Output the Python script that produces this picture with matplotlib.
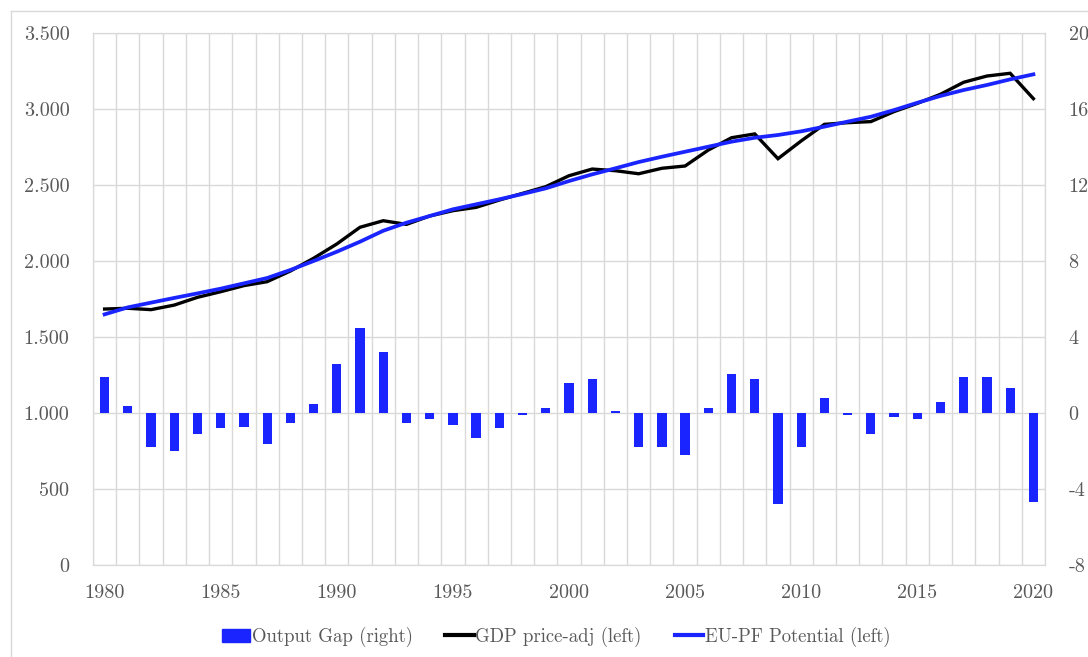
import matplotlib.pyplot as plt
import matplotlib.lines as mlines
import matplotlib.patches as mpatches
import numpy as np

plt.rcParams['font.family'] = ['cmr10', 'DejaVu Serif']
plt.rcParams['axes.unicode_minus'] = False

years = list(range(1980, 2021))

# output gap in %, right axis
output_gap = [1.9, 0.38, -1.8, -2.0, -1.1, -0.8, -0.72, -1.63, -0.51, 0.47,
              2.58, 4.47, 3.19, -0.51, -0.3, -0.61, -1.32, -0.8, -0.12, 0.26,
              1.6, 1.77, 0.09, -1.81, -1.81, -2.19, 0.26, 2.07, 1.77, -4.81,
              -1.81, 0.79, -0.12, -1.12, -0.23, -0.3, 0.58, 1.9, 1.9, 1.3,
              -4.7]

# GDP price adjusted, left axis
gdp = [1684, 1689, 1680, 1710, 1761, 1798, 1838, 1864, 1934, 2018,
       2112, 2222, 2265, 2241, 2296, 2331, 2353, 2401, 2445, 2489,
       2561, 2605, 2594, 2574, 2610, 2625, 2730, 2811, 2836, 2673,
       2790, 2899, 2910, 2917, 2983, 3037, 3097, 3176, 3217, 3235,
       3068]

# EU production function potential, left axis
potential = [1649, 1695, 1726, 1757, 1787, 1818, 1853, 1888, 1941, 2000,
             2061, 2127, 2199, 2252, 2296, 2340, 2373, 2406, 2441, 2478,
             2526, 2570, 2610, 2651, 2686, 2719, 2752, 2785, 2811, 2829,
             2853, 2884, 2917, 2949, 2993, 3041, 3086, 3125, 3158, 3195,
             3228]

left_ticks = [0, 500, 1000, 1500, 2000, 2500, 3000, 3500]
left_labels = ['0', '500', '1.000', '1.500', '2.000', '2.500', '3.000', '3.500']
right_ticks = [-8, -4, 0, 4, 8, 12, 16, 20]
right_labels = ['-8', '-4', '0', '4', '8', '12', '16', '20']
x_ticks = [1980, 1985, 1990, 1995, 2000, 2005, 2010, 2015, 2020]

blue = '#1a24ff'
grid_col = '#d9d9d9'
text_col = '#595959'

fig = plt.figure(figsize=(10.88, 6.57), dpi=100)
ax2 = fig.add_axes([93 / 1088, 1 - 565 / 657, (1045 - 93) / 1088, (565 - 33) / 657])
ax = ax2.twinx()
# left/right: put the line axis on top, but keep its ticks on the left
ax.yaxis.tick_left()
ax2.yaxis.tick_right()
ax.set_zorder(ax2.get_zorder() + 1)
ax.patch.set_visible(False)

ax2.bar(years, output_gap, width=0.4, color=blue, zorder=2)
ax.plot(years, gdp, color='black', lw=2.4, solid_joinstyle='miter')
ax.plot(years, potential, color=blue, lw=2.7)

ax.set_xlim(1979.5, 2020.5)
ax.set_ylim(0, 3500)
ax2.set_ylim(-8, 20)

ax.set_yticks(left_ticks, labels=left_labels)
ax2.set_yticks(right_ticks, labels=right_labels)
ax2.set_xticks(x_ticks)
ax2.set_xticks(np.arange(1979.5, 2021, 1), minor=True)

ax2.set_axisbelow(True)
ax2.grid(axis='y', which='major', color=grid_col, lw=1)
ax2.grid(axis='x', which='minor', color=grid_col, lw=1)

for a in (ax, ax2):
    for s in a.spines.values():
        s.set_color(grid_col)
    a.tick_params(length=0, which='both', labelsize=14.5, colors=text_col)
ax.tick_params(axis='y', pad=17)
ax2.tick_params(axis='y', pad=17)
ax2.tick_params(axis='x', pad=14)

# legend under the plot
h_bar = mpatches.Patch(color=blue)
h_gdp = mlines.Line2D([], [], color='black', lw=3)
h_pot = mlines.Line2D([], [], color=blue, lw=3)
leg = fig.legend([h_bar, h_gdp, h_pot],
                 ['Output Gap (right)', 'GDP price-adj (left)', 'EU-PF Potential (left)'],
                 loc='center', bbox_to_anchor=(0.511, 20 / 657), ncol=3, frameon=False,
                 fontsize=13.5, handlelength=1.5, handletextpad=0.1, columnspacing=1.75)
for t in leg.get_texts():
    t.set_color(text_col)

# light frame around the chart
fig.add_artist(mlines.Line2D([11 / 1088, 11 / 1088], [0, 1 - 11 / 657], color=grid_col, lw=1))
fig.add_artist(mlines.Line2D([11 / 1088, 1], [1 - 11 / 657, 1 - 11 / 657], color=grid_col, lw=1))

fig.savefig('out.png', dpi=100)
